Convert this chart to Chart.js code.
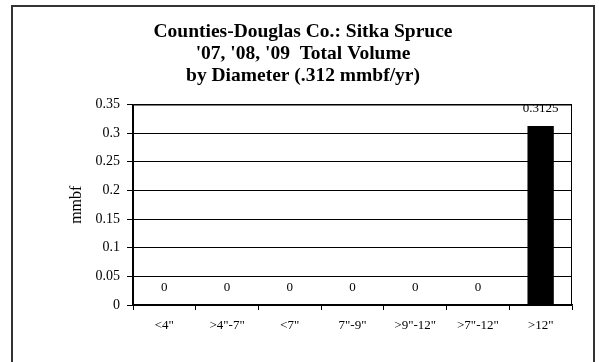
<!DOCTYPE html>
<html>
<head>
<meta charset="utf-8">
<script src="https://cdn.jsdelivr.net/npm/chart.js@4/dist/chart.umd.min.js"></script>
<style>
    html, body { margin: 0; padding: 0; background: #fff; overflow: hidden; }
    #frame {
        position: absolute;
        left: 11px;
        top: 5px;
        width: 580px;
        height: 370px;
        border: 2px solid #333;
    }
    #chart { display: block; }
</style>
</head>
<body>
<div id="frame">
    <canvas id="chart" width="580" height="360"></canvas>
</div>
<script>
const categories = ['<4"', '>4"-7"', '<7"', '7"-9"', '>9"-12"', '>7"-12"', '>12"'];
const volumes = [0, 0, 0, 0, 0, 0, 0.3125];
const titleLines = ['Counties-Douglas Co.: Sitka Spruce', "'07, '08, '09  Total Volume", 'by Diameter (.312 mmbf/yr)'];
const yTitle = 'mmbf';

const serif = '"Liberation Serif", "Times New Roman", serif';

// frame around the plot area + value labels above each bar
const plotDecor = {
    id: 'plotDecor',
    afterDatasetsDraw(chart) {
        const ctx = chart.ctx;
        const a = chart.chartArea;
        ctx.save();
        ctx.strokeStyle = '#000';
        ctx.lineWidth = 1;
        ctx.strokeRect(a.left + 0.5, a.top + 0.5, a.right - a.left - 1, a.bottom - a.top);

        const meta = chart.getDatasetMeta(0);
        ctx.fillStyle = '#000';
        ctx.font = '13px ' + serif;
        ctx.textAlign = 'center';
        ctx.textBaseline = 'middle';
        meta.data.forEach((bar, i) => {
            ctx.fillText(String(volumes[i]), bar.x, bar.y - 17);
        });
        ctx.restore();
    }
};

new Chart('chart', {
    type: 'bar',
    data: {
        labels: categories,
        datasets: [{
            data: volumes,
            backgroundColor: '#000',
            borderColor: '#000',
            borderWidth: 0,
            barPercentage: 0.42,
            categoryPercentage: 1
        }]
    },
    options: {
        responsive: false,
        animation: false,
        layout: { padding: { left: 21, right: 21, top: 0, bottom: 0 } },
        plugins: {
            legend: { display: false },
            tooltip: { enabled: false },
            title: {
                display: true,
                text: titleLines,
                color: '#000',
                font: { family: serif, size: 19.5, weight: 'bold', lineHeight: 1.12 },
                padding: { top: 14, bottom: 18 }
            }
        },
        scales: {
            x: {
                grid: {
                    offset: true,
                    drawOnChartArea: false,
                    drawTicks: true,
                    tickLength: 5,
                    color: '#000'
                },
                border: { color: '#000', width: 1.5 },
                ticks: {
                    color: '#000',
                    font: { family: serif, size: 13 },
                    padding: 8,
                    maxRotation: 0,
                    autoSkip: false
                },
                afterFit: (s) => { s.height = 62; }
            },
            y: {
                min: 0,
                max: 0.35,
                ticks: {
                    stepSize: 0.05,
                    color: '#000',
                    font: { family: serif, size: 14 },
                    padding: 7,
                    callback: (v) => String(Number(v.toFixed(2)))
                },
                grid: {
                    color: '#000',
                    lineWidth: 1,
                    tickLength: 6
                },
                border: { color: '#000', width: 1.5 },
                title: {
                    display: true,
                    text: yTitle,
                    color: '#000',
                    font: { family: serif, size: 16 },
                    padding: { top: 33, bottom: 0 }
                },
                afterFit: (s) => { s.width = 99; }
            }
        }
    },
    plugins: [plotDecor]
});
</script>
</body>
</html>
